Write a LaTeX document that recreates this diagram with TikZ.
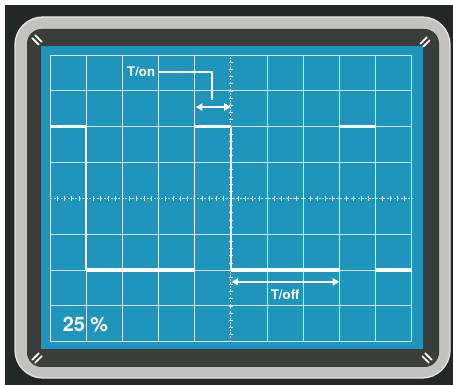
\documentclass[tikz,border=0pt]{standalone}
\usepackage{fontspec}
\setmainfont{TeX Gyre Heros}
\usepackage{tikz}
\usetikzlibrary{arrows.meta,positioning}
\definecolor{pantalla}{HTML}{1F94BD}
\definecolor{rejilla}{HTML}{CDE8F0}
\definecolor{marco}{HTML}{232725}
\definecolor{bisel}{HTML}{C2C3BE}
\definecolor{biselclaro}{HTML}{E4E5E1}
\definecolor{hueco}{HTML}{3A3E3A}
\tikzset{
  linrej/.style={draw=rejilla,line width=0.7pt},
  eje/.style={draw=rejilla,line width=0.7pt,dash pattern=on 1.6pt off 1.1pt},
  muesca/.style={draw=rejilla,line width=0.5pt},
  onda/.style={draw=white,line width=2.5pt},
  flanco/.style={draw=white,line width=1.2pt},
  guia/.style={draw=white,line width=1.1pt},
  cota/.style={draw=white,line width=1.1pt,{Triangle[length=5pt,width=5.5pt]}-{Triangle[length=5pt,width=5.5pt]}},
  rotulo/.style={text=white,font=\fontsize{10}{12}\selectfont\bfseries,inner sep=2pt},
  porcentaje/.style={text=white,font=\fontsize{15}{17}\selectfont\bfseries,inner sep=1pt},
  marca/.style={draw=white,line width=1.4pt,line cap=round},
}

\begin{document}
\begin{tikzpicture}[x=0.0265cm,y=0.0265cm]
\useasboundingbox (0,0) rectangle (453,385);
% caja y bisel
\fill[white] (0,0) rectangle (453,385);
\fill[marco] (5,0) rectangle (453,380);
\fill[bisel,draw=biselclaro,line width=1pt,rounded corners=21pt] (15,7) rectangle (450,368);
\fill[hueco,rounded corners=11pt] (27,18) rectangle (439,356);
\fill[pantalla] (41,36) rectangle (423,339);
% marcas de las esquinas
\foreach \cx/\cy/\ang in {37/345/-45,425/343/45,37/27/45,427/27/-45}
  \draw[marca,shift={(\cx,\cy)},rotate=\ang] (-4.5,2) -- (4.5,2) (-4.5,-2) -- (4.5,-2);
\begin{scope}[shift={(1.325cm,1.1475cm)},x=0.9585cm,y=0.9498cm]
% rejilla 10 x 8
\foreach \i in {0,...,4,6,7,...,10}
  \draw[linrej] (\i,0) -- (\i,8);
\foreach \j in {0,...,3,5,6,...,8}
  \draw[linrej] (0,\j) -- (10,\j);
\draw[eje] (5,0) -- (5,8);
\draw[eje] (0,4) -- (10,4);
\foreach \t in {0.2,0.4,...,9.9}
  \draw[muesca] (\t,3.94) -- (\t,4.06);
\foreach \t in {0.2,0.4,...,7.9}
  \draw[muesca] (4.94,\t) -- (5.06,\t);
% senal rectangular
\draw[onda] (0,6) -- (1,6);
\draw[flanco] (1,6) -- (1,2);
\draw[onda] (1,2) -- (4,2);
\draw[flanco] (4,2) -- (4,6);
\draw[onda] (4,6) -- (5,6);
\draw[flanco] (5,6) -- (5,2);
\draw[onda] (5,2) -- (8,2);
\draw[flanco] (8,2) -- (8,6);
\draw[onda] (8,6) -- (9,6);
\draw[flanco] (9,6) -- (9,2);
\draw[onda] (9,2) -- (10,2);
% cotas
\node[rotulo] (ton) at (2.52,7.53) {T/on};
\coordinate (codo) at (4.48,7.53);
\coordinate (pie) at (4.48,6.74);
\draw[guia] (ton.east) -- (codo) -- (pie);
\coordinate (ton1) at (4.03,6.55);
\coordinate (ton2) at (5,6.55);
\draw[cota] (ton1) -- (ton2);
\coordinate (toff1) at (5.02,1.67);
\coordinate (toff2) at (8,1.67);
\draw[cota] (toff1) -- (toff2);
\node[rotulo] (toff) at (6.5,1.3) {T/off};
\node[porcentaje] (ciclo) at (0.98,0.47) {25 \%};
\end{scope}
\end{tikzpicture}
\end{document}
